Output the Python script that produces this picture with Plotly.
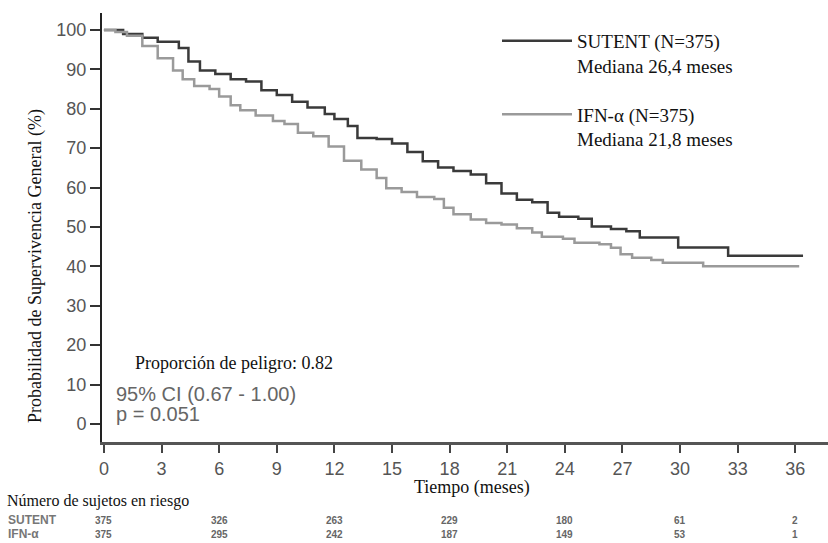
import plotly.graph_objects as go

# Kaplan-Meier curves (months, % survival)
sutent_t = [0, 1.0, 2.0, 2.8, 3.9, 4.4, 5.0, 5.8, 6.6, 7.4, 8.2, 9.0, 9.8, 10.6, 11.5, 12.0, 12.7, 13.2,
            14.2, 15.0, 15.8, 16.6, 17.4, 18.2, 19.1, 19.9, 20.7, 21.5, 22.3, 23.1, 23.7, 24.7, 25.4,
            26.4, 27.2, 27.9, 29.9, 32.5, 36.4]
sutent_s = [100, 99, 98, 97, 95.4, 92, 89.7, 88.8, 87.5, 86.9, 84.7, 83.5, 81.8, 80.3, 78.7, 77.4, 75.6, 72.6,
            72.3, 71.2, 69.0, 66.7, 65.1, 64.2, 63.3, 61.1, 58.5, 56.9, 56.3, 53.6, 52.6, 52.1, 50.1,
            49.5, 48.9, 47.3, 44.8, 42.7, 42.7]

ifn_t = [0, 0.6, 1.2, 2.0, 2.8, 3.6, 4.1, 4.7, 5.5, 6.0, 6.6, 7.1, 7.9, 8.8, 9.4, 10.1, 10.9, 11.7, 12.5,
         13.4, 14.2, 14.7, 15.5, 16.3, 17.2, 17.7, 18.2, 19.1, 19.9, 20.7, 21.5, 22.3, 22.8, 23.9, 24.5,
         25.8, 26.4, 26.9, 27.5, 28.5, 29.1, 31.2, 36.2]
ifn_s = [100, 99.5, 98.5, 95.9, 92.8, 89.7, 87.5, 85.8, 85.0, 83.1, 80.9, 79.6, 78.3, 76.9, 76.1, 73.9, 73.0,
         70.4, 66.8, 64.6, 62.4, 59.8, 58.9, 57.6, 57.1, 54.9, 53.2, 51.9, 51.0, 50.6, 49.7, 48.6, 47.5,
         47.0, 46.0, 45.6, 44.7, 43.1, 42.2, 41.6, 40.9, 40.0, 40.0]

x_ticks = list(range(0, 37, 3))
y_ticks = list(range(0, 101, 10))

risk_times = [0, 6, 12, 18, 24, 30, 36]
risk_sutent = [375, 326, 263, 229, 180, 61, 2]
risk_ifn = [375, 295, 242, 187, 149, 53, 1]

SERIF = "Liberation Serif"
SANS = "Liberation Sans"

fig = go.Figure()
fig.add_trace(go.Scatter(
    x=sutent_t, y=sutent_s, mode="lines", line=dict(color="#3a3a3a", width=2.5, shape="hv"),
    name="SUTENT (N=375)<br>Mediana 26,4 meses", legendgroup="a"))
fig.add_trace(go.Scatter(
    x=ifn_t, y=ifn_s, mode="lines", line=dict(color="#9a9a9a", width=2.5, shape="hv"),
    name="IFN-α (N=375)<br>Mediana 21,8 meses", legendgroup="b"))

ROW1 = (442 - 520) / 429
ROW2 = (442 - 534) / 429

annotations = [
    dict(text="Proporción de peligro: 0.82", x=1.5, y=15.5, xref="x", yref="y", xanchor="left",
         yanchor="middle", showarrow=False, font=dict(family=SERIF, size=18, color="#111")),
    dict(text="95% CI (0.67 - 1.00)", x=0.55, y=7.7, xref="x", yref="y", xanchor="left",
         yanchor="middle", showarrow=False, font=dict(family=SANS, size=20, color="#666")),
    dict(text="p = 0.051", x=0.55, y=2.6, xref="x", yref="y", xanchor="left",
         yanchor="middle", showarrow=False, font=dict(family=SANS, size=20, color="#666")),
    dict(text="Tiempo (meses)", x=(472 - 102) / 726, y=(442 - 487) / 429, xref="paper", yref="paper",
         xanchor="center", yanchor="middle", showarrow=False, font=dict(family=SERIF, size=18, color="#111")),
    dict(text="Probabilidad de Supervivencia General (%)", x=(35 - 102) / 726, y=(442 - 266) / 429,
         xref="paper", yref="paper", xanchor="center", yanchor="middle", textangle=-90, showarrow=False,
         font=dict(family=SERIF, size=18, color="#111")),
    dict(text="Número de sujetos en riesgo", x=(5 - 102) / 726, y=(442 - 501) / 429, xref="paper",
         yref="paper", xanchor="left", yanchor="middle", showarrow=False,
         font=dict(family=SERIF, size=16, color="#111")),
    dict(text="<b>SUTENT</b>", x=(6 - 102) / 726, y=ROW1, xref="paper", yref="paper",
         xanchor="left", yanchor="middle", showarrow=False, font=dict(family=SANS, size=12, color="#777")),
    dict(text="<b>IFN-α</b>", x=(6 - 102) / 726, y=ROW2, xref="paper", yref="paper",
         xanchor="left", yanchor="middle", showarrow=False, font=dict(family=SANS, size=12, color="#777")),
]
for t, a, b in zip(risk_times, risk_sutent, risk_ifn):
    annotations.append(dict(text=f"<b>{a}</b>", x=t, y=ROW1, xref="x", yref="paper",
                            xanchor="center", yanchor="middle", showarrow=False,
                            font=dict(family=SANS, size=10, color="#666")))
    annotations.append(dict(text=f"<b>{b}</b>", x=t, y=ROW2, xref="x", yref="paper",
                            xanchor="center", yanchor="middle", showarrow=False,
                            font=dict(family=SANS, size=10, color="#666")))

fig.update_layout(
    width=828, height=543,
    margin=dict(l=102, r=0, t=13, b=101),
    paper_bgcolor="white", plot_bgcolor="white",
    showlegend=True,
    legend=dict(x=(497 - 102) / 726, y=(442 - 22) / 429, xanchor="left", yanchor="top",
                itemwidth=70, valign="top", traceorder="grouped", tracegroupgap=21,
                font=dict(family=SERIF, size=19, color="#111"), bgcolor="rgba(0,0,0,0)"),
    xaxis=dict(range=[-0.1, 37.7], tickvals=x_ticks, ticks="outside", ticklen=8, tickwidth=2,
               tickcolor="#444", showline=True, linecolor="#555", linewidth=3, showgrid=False,
               zeroline=False, tickfont=dict(family=SANS, size=18, color="#555")),
    yaxis=dict(range=[-4.57, 104.3], tickvals=y_ticks, ticks="outside", ticklen=10, tickwidth=2,
               tickcolor="#333", showline=True, linecolor="#222", linewidth=2, showgrid=False,
               zeroline=False, tickfont=dict(family=SANS, size=18, color="#555")),
    annotations=annotations,
)

fig.write_html("out.html")
